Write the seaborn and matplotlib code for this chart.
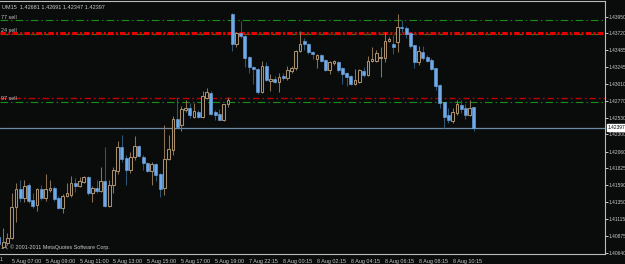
import numpy as np
import matplotlib
matplotlib.use("Agg")
import matplotlib.pyplot as plt
import matplotlib.transforms as mtransforms
import seaborn as sns

# ---------------- data (EURUSD M15 candles) ----------------
open_ = [1.40864, 1.40724, 1.40780, 1.40850, 1.41284, 1.41536, 1.41410, 1.41592, 1.41382, 1.41312,
         1.41536, 1.41410, 1.41522, 1.41550, 1.41410, 1.41270, 1.41438, 1.41452, 1.41620, 1.41578,
         1.41634, 1.41704, 1.41480, 1.41550, 1.41508, 1.41648, 1.41298, 1.41592, 1.41788, 1.42124,
         1.41970, 1.41802, 1.41984, 1.42138, 1.41984, 1.41900, 1.41788, 1.41886, 1.41746, 1.41550,
         1.41956, 1.42082, 1.42516, 1.42432, 1.42642, 1.42670, 1.42544, 1.42614, 1.42544, 1.42810,
         1.42880, 1.42614, 1.42586, 1.42502, 1.42726, 1.43986, 1.43566, 1.43720, 1.43678, 1.43384,
         1.43244, 1.43216, 1.42894, 1.43258, 1.43048, 1.43076, 1.43034, 1.43118, 1.43090, 1.43188,
         1.43230, 1.43468, 1.43608, 1.43566, 1.43454, 1.43356, 1.43412, 1.43342, 1.43202, 1.43300,
         1.43314, 1.43230, 1.43160, 1.43118, 1.43006, 1.43034, 1.43188, 1.43132, 1.43328, 1.43328,
         1.43370, 1.43370, 1.43608, 1.43566, 1.43594, 1.43804, 1.43790, 1.43720, 1.43552, 1.43314,
         1.43454, 1.43384, 1.43342, 1.43230, 1.42992, 1.42754, 1.42572, 1.42488, 1.42600, 1.42712,
         1.42670, 1.42572, 1.42681]
high = [1.40892, 1.40990, 1.40920, 1.41480, 1.41620, 1.41662, 1.41662, 1.41620, 1.41480, 1.41550,
        1.41592, 1.41746, 1.41662, 1.41578, 1.41438, 1.41466, 1.41620, 1.41718, 1.41690, 1.41704,
        1.41718, 1.41718, 1.41578, 1.41662, 1.41844, 1.42124, 1.41662, 1.41844, 1.42208, 1.42292,
        1.42012, 1.42054, 1.42278, 1.42152, 1.42012, 1.41914, 1.41914, 1.41900, 1.41760, 1.42432,
        1.42292, 1.42558, 1.42824, 1.42698, 1.42782, 1.42740, 1.42740, 1.42642, 1.42908, 1.42950,
        1.42908, 1.42642, 1.42656, 1.42726, 1.42824, 1.44000, 1.43734, 1.43888, 1.43692, 1.43398,
        1.43258, 1.43230, 1.43328, 1.43314, 1.43146, 1.43118, 1.43160, 1.43160, 1.43258, 1.43258,
        1.43482, 1.43748, 1.43650, 1.43580, 1.43468, 1.43426, 1.43426, 1.43356, 1.43328, 1.43342,
        1.43328, 1.43244, 1.43174, 1.43132, 1.43216, 1.43216, 1.43244, 1.43398, 1.43524, 1.43482,
        1.43524, 1.43734, 1.43664, 1.43692, 1.43986, 1.43902, 1.43818, 1.43720, 1.43552, 1.43538,
        1.43538, 1.43412, 1.43370, 1.43230, 1.43006, 1.42754, 1.42670, 1.42670, 1.42782, 1.42782,
        1.42726, 1.42782, 1.42691]
low = [1.40724, 1.40710, 1.40752, 1.40836, 1.41074, 1.41354, 1.41354, 1.41340, 1.41270, 1.41228,
       1.41382, 1.41368, 1.41494, 1.41368, 1.41256, 1.41200, 1.41424, 1.41424, 1.41494, 1.41564,
       1.41620, 1.41452, 1.41354, 1.41480, 1.41494, 1.41284, 1.41284, 1.41480, 1.41746, 1.41914,
       1.41592, 1.41760, 1.41942, 1.41984, 1.41802, 1.41774, 1.41592, 1.41648, 1.41424, 1.41452,
       1.41942, 1.42012, 1.42404, 1.42348, 1.42614, 1.42530, 1.42530, 1.42530, 1.42530, 1.42796,
       1.42572, 1.42502, 1.42502, 1.42488, 1.42684, 1.43468, 1.43524, 1.43650, 1.43244, 1.43160,
       1.43006, 1.42866, 1.42880, 1.43048, 1.42908, 1.43020, 1.42894, 1.43062, 1.43062, 1.43160,
       1.43202, 1.43454, 1.43482, 1.43426, 1.43356, 1.43230, 1.43314, 1.43188, 1.43146, 1.43272,
       1.43174, 1.43006, 1.42978, 1.42992, 1.42992, 1.43020, 1.43104, 1.43118, 1.43314, 1.43314,
       1.43104, 1.43314, 1.43594, 1.43426, 1.43454, 1.43734, 1.43650, 1.43510, 1.43230, 1.43272,
       1.43342, 1.43314, 1.43202, 1.42922, 1.42670, 1.42390, 1.42460, 1.42460, 1.42572, 1.42600,
       1.42516, 1.42558, 1.42347]
close = [1.40766, 1.40794, 1.40850, 1.41284, 1.41536, 1.41410, 1.41578, 1.41368, 1.41298, 1.41536,
         1.41410, 1.41536, 1.41550, 1.41396, 1.41270, 1.41438, 1.41480, 1.41620, 1.41578, 1.41648,
         1.41704, 1.41480, 1.41550, 1.41508, 1.41648, 1.41298, 1.41592, 1.41802, 1.42124, 1.41956,
         1.41802, 1.41984, 1.42138, 1.41998, 1.41900, 1.41788, 1.41886, 1.41732, 1.41536, 1.41956,
         1.42096, 1.42516, 1.42404, 1.42656, 1.42670, 1.42572, 1.42628, 1.42544, 1.42838, 1.42894,
         1.42586, 1.42572, 1.42502, 1.42726, 1.42782, 1.43566, 1.43720, 1.43678, 1.43370, 1.43244,
         1.43216, 1.42894, 1.43258, 1.43062, 1.43076, 1.43034, 1.43104, 1.43090, 1.43202, 1.43230,
         1.43468, 1.43566, 1.43566, 1.43454, 1.43426, 1.43412, 1.43328, 1.43202, 1.43314, 1.43328,
         1.43202, 1.43146, 1.43104, 1.43006, 1.43062, 1.43202, 1.43132, 1.43328, 1.43356, 1.43440,
         1.43384, 1.43608, 1.43636, 1.43524, 1.43804, 1.43790, 1.43706, 1.43538, 1.43314, 1.43468,
         1.43370, 1.43328, 1.43216, 1.42978, 1.42740, 1.42544, 1.42502, 1.42614, 1.42726, 1.42656,
         1.42572, 1.42670, 1.42397]

time_labels = ["5 Aug 07:00", "5 Aug 09:00", "5 Aug 11:00", "5 Aug 13:00", "5 Aug 15:00",
               "5 Aug 17:00", "5 Aug 19:00", "7 Aug 22:15", "8 Aug 00:15", "8 Aug 02:15",
               "8 Aug 04:15", "8 Aug 06:15", "8 Aug 08:15", "8 Aug 10:15"]
price_ticks = [1.43950, 1.43720, 1.43485, 1.43245, 1.43010, 1.42770, 1.42530,
               1.42300, 1.42060, 1.41825, 1.41590, 1.41350, 1.41115, 1.40875, 1.40640]
red_levels = [1.43720, 1.42810]
red_labels = ["24 sell", "97 sell"]
green_levels = [1.43902, 1.43706, 1.42754]
green_label = "77 sell"
bid_price = 1.42397
header = "UM15  1.42681 1.42691 1.42347 1.42397"
copyright_text = "14, \u00a9 2001-2011 MetaQuotes Software Corp."

# ---------------- style ----------------
BG = "#0a0c0c"
FG = "#c8c8c8"
BULL = "#a98f6c"
BULL_WICK = "#8a7252"
BEAR = "#6ea9e8"
BEAR_WICK = "#2c5674"

sns.set_style("dark", {"axes.facecolor": BG, "figure.facecolor": BG})
plt.rcParams["font.family"] = ["Liberation Sans", "DejaVu Sans"]
plt.rcParams["lines.scale_dashes"] = False

fig = plt.figure(figsize=(6.25, 2.64), dpi=100, facecolor=BG)
ax = fig.add_axes([0, 10 / 264, 605 / 625, 253 / 264])
ax.set_facecolor(BG)

o = np.array(open_); h = np.array(high); l = np.array(low); c = np.array(close)
n = len(o)
x = np.arange(n)
bull = c >= o

# levels
for lv in green_levels:
    ax.axhline(lv, color="#1a8c1a", lw=0.8, ls=(0, (5.5, 2.2, 1.0, 2.2)), zorder=1)
ax.axhline(red_levels[0], color="#e80000", lw=2.2, ls=(0, (4.0, 1.6, 1.4, 1.6)), zorder=2)
ax.axhline(red_levels[1], color="#c00000", lw=1.0, ls=(0, (4.5, 2.2, 1.2, 2.2)), zorder=2)
ax.axhline(bid_price, color="#6a8ca6", lw=0.9, zorder=1)

# wicks
ax.vlines(x[bull], l[bull], h[bull], color=BULL_WICK, lw=0.75, zorder=3)
ax.vlines(x[~bull], l[~bull], h[~bull], color=BEAR_WICK, lw=0.75, zorder=3)
# bodies
body_lo = np.minimum(o, c)
body_h = np.maximum(np.abs(c - o), 0.00012)
ax.bar(x[bull], body_h[bull], bottom=body_lo[bull], width=0.62,
       facecolor=BG, edgecolor=BULL, linewidth=0.75, zorder=4)
ax.bar(x[~bull], body_h[~bull], bottom=body_lo[~bull], width=0.7,
       facecolor=BEAR, edgecolor=BEAR, linewidth=0.4, zorder=4)

# scales
ax.set_xlim(0.24, 142.93)
ax.set_ylim(1.40626, 1.44168)

first_tick = 3
tick_pos = [first_tick + 8 * j for j in range(len(time_labels))]
ax.set_xticks(tick_pos)
ax.set_xticklabels(time_labels, ha="left", fontsize=3.9, color=FG)
ax.tick_params(axis="x", direction="out", length=2.5, width=0.7, color=FG, pad=0.8)
ax.xaxis.grid(False); ax.yaxis.grid(False)

ax.yaxis.tick_right()
ax.set_yticks(price_ticks)
ax.set_yticklabels([f"{v:.5f}" for v in price_ticks], fontsize=3.5, color=FG)
ax.tick_params(axis="y", direction="out", length=2, width=0.7, color=FG, pad=0.6)

for side in ["top", "right", "bottom"]:
    ax.spines[side].set_visible(True)
    ax.spines[side].set_color("#bcbcbc")
    ax.spines[side].set_linewidth(0.8)
ax.spines["left"].set_visible(False)

# texts
tr = mtransforms.blended_transform_factory(ax.transAxes, ax.transData)
ax.text(0.002, green_levels[0] + 0.00035, green_label, transform=tr, fontsize=3.9,
        color=FG, ha="left", va="center")
ax.text(0.002, red_levels[0] + 0.00030, red_labels[0], transform=tr, fontsize=3.9,
        color=FG, ha="left", va="center")
ax.text(0.002, red_levels[1], red_labels[1], transform=tr, fontsize=3.9,
        color=FG, ha="left", va="center")
ax.text(1.0035, bid_price, f"{bid_price:.5f}", transform=tr, fontsize=3.5, color="black",
        ha="left", va="center", zorder=10,
        bbox=dict(boxstyle="square,pad=0.12", facecolor="white", edgecolor="white"))
ax.text(0.003, 0.985, header, transform=ax.transAxes, fontsize=4.0, color=FG,
        ha="left", va="top")
ax.text(0.001, 0.025, copyright_text, transform=ax.transAxes, fontsize=3.9, color=FG,
        ha="left", va="center")
ax.text(0.0, -0.012, "1", transform=ax.transAxes, fontsize=3.9, color=FG,
        ha="left", va="top")

ax.set_xlabel(""); ax.set_ylabel("")
fig.savefig("out.png", dpi=100, facecolor=BG)
